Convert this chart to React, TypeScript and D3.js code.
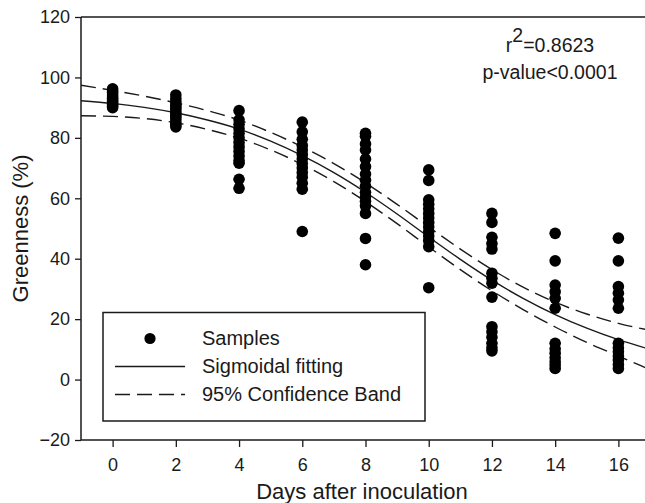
import * as d3 from "d3";
import { useRef, useEffect } from "react";

// sample days and greenness readings (%)
const days = [0, 2, 4, 6, 8, 10, 12, 14, 16];
const day0 = [96.2, 95.5, 95, 94.2, 93.5, 93, 92.5, 92, 91.5, 91, 90.5, 90];
const day2 = [94.2, 93, 92, 91.2, 90.5, 89.8, 89, 88.2, 87.5, 86.8, 86, 85, 84.2, 83.6];
const day4 = [89, 86, 84.5, 83, 81.5, 80, 78.5, 77, 75.5, 74, 72.5, 71.6, 66.3, 63.3];
const day6 = [85.2, 82, 79.5, 77.5, 76, 74.5, 73, 71.5, 70, 68.5, 67, 65, 63, 49];
const day8 = [81.5, 80.5, 78, 76, 73, 70.5, 68, 66, 64, 62, 60.5, 59, 57.5, 55, 46.7, 38];
const day10 = [69.4, 65.9, 59.5, 58, 56.5, 55, 53.5, 52, 50.5, 49, 47.5, 46, 44, 30.4];
const day12 = [55, 52, 47.1, 45, 43.2, 35.2, 33.5, 31.9, 27.3, 17.5, 15.8, 14, 12, 10.5, 9.5];
const day14 = [48.4, 39.3, 31.3, 29.1, 26.9, 23.6, 12, 10.2, 8.7, 7.2, 5.9, 4.8, 3.7];
const day16 = [46.8, 39.3, 30.8, 28.6, 26.4, 23.6, 12, 10.5, 9.2, 7.8, 6.5, 5, 3.7];
const samples = [day0, day2, day4, day6, day8, day10, day12, day14, day16];

// sigmoid fit and its 95% band, read at each day
const fitDays = [-1, 0, 1, 2, 3, 4, 5, 6, 7, 8, 9, 10, 11, 12, 13, 14, 15, 16, 17];
const fitMid = [92.3, 91.4, 90.1, 88.3, 85.9, 82.9, 78.9, 74.1, 68.5, 62.0, 54.8, 47.2, 39.8, 32.9, 26.8, 21.5, 17.0, 13.2, 10.0];
const fitUpper = [97.4, 95.7, 93.8, 91.6, 89.0, 85.9, 81.8, 77.0, 71.5, 65.1, 58.0, 50.5, 43.2, 36.4, 30.5, 25.6, 21.7, 18.6, 16.3];
const fitLower = [87.3, 87.1, 86.4, 85.0, 82.8, 79.9, 76.0, 71.2, 65.5, 58.9, 51.6, 43.9, 36.4, 29.4, 23.1, 17.4, 12.3, 7.8, 3.3];

const yTicks = [-20, 0, 20, 40, 60, 80, 100, 120];
const xTicks = [0, 2, 4, 6, 8, 10, 12, 14, 16];
const legendItems = ["Samples", "Sigmoidal fitting", "95% Confidence Band"];

export default function App() {
  const ref = useRef<SVGSVGElement | null>(null);
  const width = 645, height = 503;
  const margin = { left: 81, top: 17, right: -5, bottom: 63 };
  const font = "'Liberation Sans', Arial, Helvetica, sans-serif";
  const ink = "#1a1a1a";

  useEffect(() => {
    const svg = d3.select(ref.current);
    svg.selectAll("*").remove();

    const x = d3.scaleLinear().domain([-1, 17]).range([margin.left, width - margin.right]);
    const y = d3.scaleLinear().domain([-20, 120]).range([height - margin.bottom, margin.top]);

    svg.append("defs").append("clipPath").attr("id", "plotclip")
      .append("rect")
      .attr("x", margin.left).attr("y", margin.top)
      .attr("width", width - margin.right - margin.left)
      .attr("height", height - margin.bottom - margin.top);

    // frame: top line
    svg.append("line")
      .attr("x1", margin.left).attr("x2", width)
      .attr("y1", y(120)).attr("y2", y(120))
      .attr("stroke", ink).attr("stroke-width", 1.5);

    // y axis
    const yAxis = d3.axisLeft(y).tickValues(yTicks).tickSize(6).tickPadding(5);
    const gy = svg.append("g")
      .attr("transform", `translate(${margin.left},0)`)
      .call(yAxis);
    gy.select(".domain").attr("stroke", ink).attr("stroke-width", 1.5).attr("d", `M0,${y(-20)}V${y(120)}`);
    gy.selectAll(".tick line").attr("stroke", ink).attr("stroke-width", 1.3);
    gy.selectAll(".tick text").style("font", `18px ${font}`).attr("fill", ink);

    // x axis
    const xAxis = d3.axisBottom(x).tickValues(xTicks).tickSize(7).tickPadding(11);
    const gx = svg.append("g")
      .attr("transform", `translate(0,${y(-20)})`)
      .call(xAxis);
    gx.select(".domain").attr("stroke", ink).attr("stroke-width", 1.5).attr("d", `M${margin.left},0H${width}`);
    gx.selectAll(".tick line").attr("stroke", ink).attr("stroke-width", 1.3);
    gx.selectAll(".tick text").style("font", `18px ${font}`).attr("fill", ink);

    // axis titles
    svg.append("text")
      .attr("x", 362).attr("y", 499)
      .attr("text-anchor", "middle")
      .style("font", `22px ${font}`).attr("fill", ink)
      .text("Days after inoculation");
    svg.append("text")
      .attr("transform", `translate(28,${(y(-20) + y(120)) / 2}) rotate(-90)`)
      .attr("text-anchor", "middle")
      .style("font", `22px ${font}`).attr("fill", ink)
      .text("Greenness (%)");

    // fit curves
    const line = d3.line<number>()
      .x((_, i) => x(fitDays[i]))
      .y((d) => y(d))
      .curve(d3.curveMonotoneX);
    const curves = svg.append("g").attr("clip-path", "url(#plotclip)");
    curves.append("path").attr("d", line(fitMid))
      .attr("fill", "none").attr("stroke", ink).attr("stroke-width", 1.4);
    [fitUpper, fitLower].forEach((band) => {
      curves.append("path").attr("d", line(band))
        .attr("fill", "none").attr("stroke", ink).attr("stroke-width", 1.4)
        .attr("stroke-dasharray", "15,7");
    });

    // samples
    const pts = svg.append("g");
    samples.forEach((vals, i) => {
      pts.selectAll(null)
        .data(vals)
        .enter()
        .append("circle")
        .attr("cx", x(days[i]))
        .attr("cy", (d) => y(d))
        .attr("r", 5.8)
        .attr("fill", "#000");
    });

    // r2 annotation
    const note = svg.append("text")
      .attr("x", 550).attr("y", 52)
      .attr("text-anchor", "middle")
      .style("font", `19.5px ${font}`).attr("fill", ink);
    note.append("tspan").text("r");
    note.append("tspan").attr("dy", -10).style("font-size", "19.5px").text("2");
    note.append("tspan").attr("dy", 10).text("=0.8623");
    svg.append("text")
      .attr("x", 550).attr("y", 79)
      .attr("text-anchor", "middle")
      .style("font", `19.5px ${font}`).attr("fill", ink)
      .text("p-value<0.0001");

    // legend
    const lg = svg.append("g");
    lg.append("rect")
      .attr("x", 103).attr("y", 312.5)
      .attr("width", 322).attr("height", 108.5)
      .attr("fill", "#fff").attr("stroke", ink).attr("stroke-width", 1.5);
    const rowY = [338.5, 366.5, 394.5];
    lg.append("circle").attr("cx", 150).attr("cy", rowY[0]).attr("r", 5.6).attr("fill", "#000");
    lg.append("line").attr("x1", 115).attr("x2", 185).attr("y1", rowY[1]).attr("y2", rowY[1])
      .attr("stroke", ink).attr("stroke-width", 1.4);
    lg.append("line").attr("x1", 115).attr("x2", 185).attr("y1", rowY[2]).attr("y2", rowY[2])
      .attr("stroke", ink).attr("stroke-width", 1.4).attr("stroke-dasharray", "15,7");
    legendItems.forEach((t, i) => {
      lg.append("text")
        .attr("x", 202).attr("y", rowY[i] + 6.5)
        .style("font", `20px ${font}`).attr("fill", ink)
        .text(t);
    });
  }, []);

  return (
    <svg
      ref={ref}
      width={width}
      height={height}
      style={{ position: "absolute", left: 0, top: 0, background: "#fff" }}
    />
  );
}
